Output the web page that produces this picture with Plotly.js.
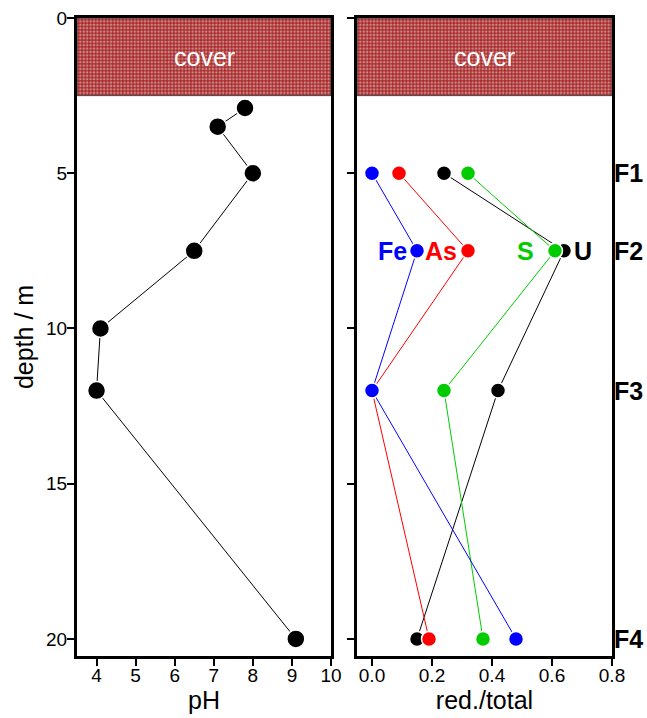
<!DOCTYPE html>
<html><head><meta charset="utf-8">
<script src="https://cdn.plot.ly/plotly-3.0.1.min.js"></script>
<style>html,body{margin:0;padding:0;background:#fff}#chart{width:647px;height:718px}</style>
</head><body><div id="chart"></div>
<script>
// pH profile
const phDepth = [2.9, 3.5, 5.0, 7.5, 10.0, 12.0, 20.0];
const phValues = [7.8, 7.1, 8.0, 6.5, 4.1, 4.0, 9.1];
// red./total profiles
const redDepth = [5.0, 7.5, 12.0, 20.0];
const redU  = [0.24, 0.64, 0.42, 0.15];
const redS  = [0.32, 0.61, 0.24, 0.37];
const redAs = [0.09, 0.32, 0.00, 0.19];
const redFe = [0.00, 0.15, 0.00, 0.48];
const levelNames = ['F1', 'F2', 'F3', 'F4'];
const levelDepth = [5.0, 7.5, 12.0, 20.0];
// cover layer
const coverTop = 0, coverBottom = 2.5;
const phRange = [3.5, 10];
const redRange = [-0.05, 0.8];
const depthRange = [20.55, 0];
const phTicks = [4, 5, 6, 7, 8, 9, 10];
const redTicks = [0, 0.2, 0.4, 0.6, 0.8];
const redTickText = ['0.0', '0.2', '0.4', '0.6', '0.8'];
const depthTicks = [0, 5, 10, 15, 20];

const FONT = 'Liberation Sans, Arial, sans-serif';
const coverPattern = {shape: '+', fgcolor: '#a00000', bgcolor: '#c88686', size: 3.4, solidity: 0.4};

function coverBar(xr, xa, ya) {
  return {type: 'bar', orientation: 'h', xaxis: xa, yaxis: ya,
    y: [(coverTop + coverBottom) / 2], x: [xr[1] - xr[0]], base: [xr[0]],
    width: [coverBottom - coverTop],
    marker: {color: '#c88686', pattern: coverPattern, line: {color: '#444', width: 1}},
    hoverinfo: 'skip', showlegend: false};
}
function series(x, y, color, xa, ya, size) {
  return {type: 'scatter', mode: 'lines+markers', x: x, y: y, xaxis: xa, yaxis: ya,
    line: {color: color, width: 1},
    marker: {color: color, size: size, line: {color: '#fff', width: 1.5}},
    cliponaxis: false, showlegend: false};
}

const data = [
  coverBar(phRange, 'x', 'y'),
  coverBar(redRange, 'x2', 'y2'),
  series(phValues, phDepth, '#000000', 'x', 'y', 18),
  series(redU, redDepth, '#000000', 'x2', 'y2', 15),
  series(redS, redDepth, '#00cc00', 'x2', 'y2', 15),
  series(redAs, redDepth, '#ff0000', 'x2', 'y2', 15),
  series(redFe, redDepth, '#0000ff', 'x2', 'y2', 15)
];

const axisCommon = {showline: true, linewidth: 3, linecolor: '#000', mirror: true,
  ticks: 'outside', ticklen: 7, tickwidth: 2, tickcolor: '#000', showgrid: false, zeroline: false,
  tickfont: {family: FONT, size: 19, color: '#000'}};
const titleFont = {family: FONT, size: 25, color: '#000'};

const yTop = 1 - 18/718, yBot = 1 - 656/718;
const layout = {
  width: 647, height: 718, margin: {l: 0, r: 0, t: 0, b: 0},
  paper_bgcolor: '#fff', plot_bgcolor: '#fff', bargap: 0,
  xaxis: Object.assign({}, axisCommon, {domain: [77/647, 331/647], range: phRange,
    tickvals: phTicks, ticklabelstandoff: -7, title: {text: 'pH', font: titleFont, standoff: 0}}),
  yaxis: Object.assign({}, axisCommon, {domain: [yBot, yTop], range: depthRange,
    tickvals: depthTicks, ticklabelstandoff: -4, title: {text: 'depth / m', font: titleFont, standoff: 6}}),
  xaxis2: Object.assign({}, axisCommon, {domain: [357/647, 612/647], range: redRange, anchor: 'y2',
    tickvals: redTicks, ticktext: redTickText, ticklabelstandoff: -7,
    title: {text: 'red./total', font: titleFont, standoff: 0}}),
  yaxis2: Object.assign({}, axisCommon, {domain: [yBot, yTop], range: depthRange, anchor: 'x2',
    tickvals: depthTicks, showticklabels: false}),
  annotations: [
    {xref: 'x domain', yref: 'y', x: 0.5, y: (coverTop + coverBottom) / 2, text: 'cover', showarrow: false,
      font: {family: FONT, size: 25, color: '#fff'}},
    {xref: 'x2 domain', yref: 'y2', x: 0.5, y: (coverTop + coverBottom) / 2, text: 'cover', showarrow: false,
      font: {family: FONT, size: 25, color: '#fff'}},
    {xref: 'x2', yref: 'y2', x: 0.122, y: 7.5, text: '<b>Fe</b>', showarrow: false, xanchor: 'right',
      font: {family: FONT, size: 25, color: '#0000ff'}},
    {xref: 'x2', yref: 'y2', x: 0.17, y: 7.5, text: '<b>As</b>', showarrow: false, xanchor: 'left',
      font: {family: FONT, size: 25, color: '#ff0000'}},
    {xref: 'x2', yref: 'y2', x: 0.51, y: 7.5, text: '<b>S</b>', showarrow: false, xanchor: 'center',
      font: {family: FONT, size: 25, color: '#00cc00'}},
    {xref: 'x2', yref: 'y2', x: 0.665, y: 7.5, text: '<b>U</b>', showarrow: false, xanchor: 'left',
      font: {family: FONT, size: 25, color: '#000'}}
  ].concat(levelNames.map((n, i) => ({xref: 'x2 domain', yref: 'y2', x: 1.0, y: levelDepth[i],
      text: '<b>' + n + '</b>', showarrow: false, xanchor: 'left',
      font: {family: FONT, size: 25, color: '#000'}})))
};

Plotly.newPlot('chart', data, layout, {staticPlot: true});
</script></body></html>
